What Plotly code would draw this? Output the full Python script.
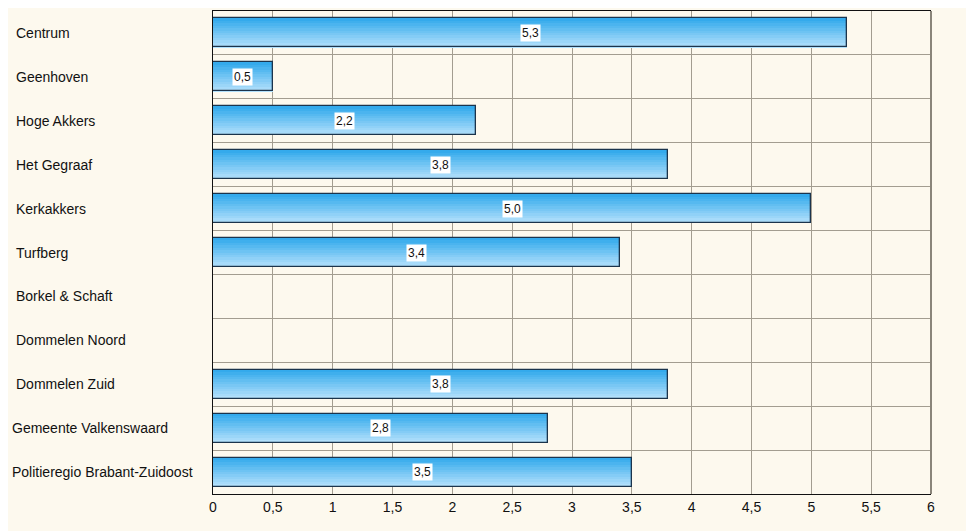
import plotly.graph_objects as go

categories = ["Centrum", "Geenhoven", "Hoge Akkers", "Het Gegraaf", "Kerkakkers",
              "Turfberg", "Borkel & Schaft", "Dommelen Noord", "Dommelen Zuid",
              "Gemeente Valkenswaard", "Politieregio Brabant-Zuidoost"]
values = [5.3, 0.5, 2.2, 3.8, 5.0, 3.4, None, None, 3.8, 2.8, 3.5]

BG = "#fdf9ee"
GRID = "#a39d90"
BAR_W = 0.66
N = 12
top_rgb = (52, 170, 236)
bot_rgb = (178, 224, 251)

fig = go.Figure()
for i in range(N):
    t = i / (N - 1)
    c = tuple(round(top_rgb[k] + (bot_rgb[k] - top_rgb[k]) * t) for k in range(3))
    fig.add_trace(go.Bar(
        x=values, y=categories, orientation="h",
        width=BAR_W / N + 0.004, offset=-BAR_W / 2 + i * BAR_W / N,
        marker=dict(color="rgb(%d,%d,%d)" % c, line=dict(width=0)),
        showlegend=False, hoverinfo="skip"))
# outline
fig.add_trace(go.Bar(
    x=values, y=categories, orientation="h", width=BAR_W, offset=-BAR_W / 2,
    marker=dict(color="rgba(0,0,0,0)", line=dict(color="#1b344c", width=1.3)),
    showlegend=False, hoverinfo="skip"))

annotations = []
for cat, v in zip(categories, values):
    annotations.append(dict(
        x=0, y=cat, xref="x", yref="y", text=cat, showarrow=False,
        xanchor="left", xshift=-199 if len(cat) < 20 else -203,
        font=dict(family="Liberation Sans, Arial", size=14, color="#111111")))
    if v is not None:
        annotations.append(dict(
            x=v / 2, y=cat, xref="x", yref="y",
            text=("%.1f" % v).replace(".", ","), showarrow=False,
            bgcolor="white", borderpad=1,
            font=dict(family="Liberation Sans, Arial", size=12, color="#111111")))

fig.update_layout(
    width=966, height=523,
    margin=dict(l=205, r=43, t=3, b=37),
    paper_bgcolor=BG, plot_bgcolor=BG,
    barmode="overlay", bargap=0,
    separators=",.",
    hovermode=False,
    annotations=annotations,
    xaxis=dict(range=[0, 6], dtick=0.5, showgrid=True, gridcolor=GRID, gridwidth=1,
               showline=True, linecolor="#111111", linewidth=1, mirror=True,
               zeroline=False, ticks="",
               tickfont=dict(family="Liberation Sans, Arial", size=14, color="#111111")),
    yaxis=dict(type="category", autorange="reversed", tickson="boundaries",
               showgrid=True, gridcolor=GRID, gridwidth=1,
               showline=True, linecolor="#111111", linewidth=1,
               showticklabels=False, ticks=""),
)
fig.add_shape(type="line", xref="paper", yref="paper", x0=1, x1=1, y0=0, y1=1,
              line=dict(color="#8a857a", width=2))

fig.write_html("out.html")
